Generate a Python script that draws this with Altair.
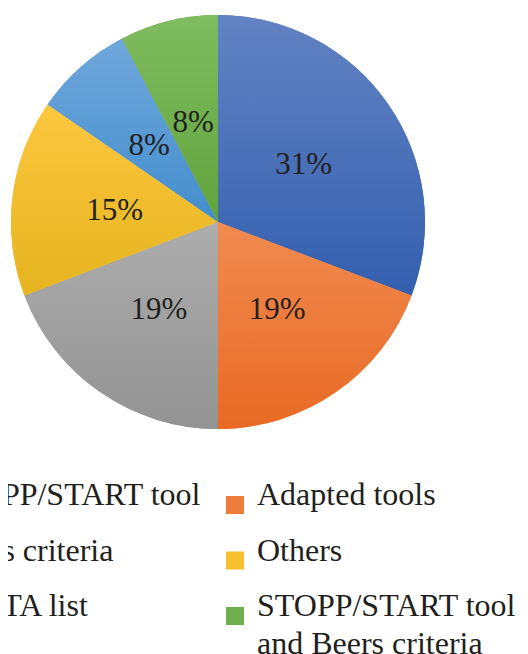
import altair as alt
import pandas as pd

categories = ["STOPP/START tool", "Adapted tools", "Beers criteria", "Others",
              "FORTA list", "STOPP/START tool and Beers criteria"]
counts = [8, 5, 5, 4, 2, 2]
labels = ["31%", "19%", "19%", "15%", "8%", "8%"]
solid_colors = ["#4A6FB9", "#ED7B3A", "#A0A0A0", "#F6BF2E", "#5A9BD5", "#70AF4D"]
grad_top = ["#6283C3", "#F18B50", "#ADADAD", "#FDC73F", "#6FA7DB", "#80BC60"]
grad_bottom = ["#335FAF", "#E86A24", "#939393", "#E5B41F", "#438ECE", "#61A33C"]

df = pd.DataFrame({"idx": list(range(len(categories))), "cat": categories,
                   "count": counts, "label": labels})
total = sum(counts)

theta_scale = alt.Scale(domain=[0, total], range=[0, 6.283185307179586])
CX, CY, R = 210, 214, 207

base = alt.Chart(df).transform_window(
    cum="sum(count)", sort=[alt.SortField("idx")], frame=[None, 0]
).transform_calculate(
    start="datum.cum - datum.count", mid="datum.cum - datum.count / 2"
)

legend = alt.Legend(
    title=None, orient="none", legendX=-104, legendY=481, columns=2,
    direction="horizontal",
    symbolType="square", symbolSize=324, symbolStrokeWidth=0,
    labelFont="Liberation Serif", labelFontSize=32, labelColor="#231F20",
    labelLimit=0, labelOffset=6, rowPadding=20.5, columnPadding=18, padding=0,
    labelBaseline="alphabetic",
    labelExpr="datum.label == 'STOPP/START tool and Beers criteria' ? ['STOPP/START tool', 'and Beers criteria'] : datum.label",
)

pie = base.mark_arc(radius=R, strokeWidth=0).encode(
    theta=alt.Theta("start:Q", scale=theta_scale),
    theta2="cum:Q",
    color=alt.Color("cat:N", scale=alt.Scale(domain=categories, range=solid_colors),
                    legend=legend, sort=categories),
    x=alt.value(CX), y=alt.value(CY),
)

layers = [pie]
for c, t, b in zip(categories, grad_top, grad_bottom):
    grad = alt.LinearGradient(
        gradient="linear", x1=0, y1=0, x2=0, y2=1,
        stops=[alt.GradientStop(offset=0, color=t), alt.GradientStop(offset=1, color=b)],
    )
    layers.append(
        base.transform_filter(alt.datum.cat == c).mark_arc(radius=R, fill=grad, strokeWidth=0).encode(
            theta=alt.Theta("start:Q", scale=theta_scale),
            theta2="cum:Q",
            x=alt.value(CX), y=alt.value(CY),
        )
    )

text = base.mark_text(radius=104, font="Liberation Serif", fontSize=31, dy=2,
                      color="#231F20").encode(
    theta=alt.Theta("mid:Q", scale=theta_scale),
    text="label:N",
    x=alt.value(CX), y=alt.value(CY),
)
layers.append(text)

chart = alt.layer(*layers).properties(
    width=512, height=646,
    autosize=alt.AutoSizeParams(type="none"),
    padding=0,
).configure(
    style={"guide-label": {"lineHeight": 38}}
).configure_view(stroke=None, strokeWidth=0)

chart.save("out.html", embed_options={"renderer": "svg", "actions": False})
